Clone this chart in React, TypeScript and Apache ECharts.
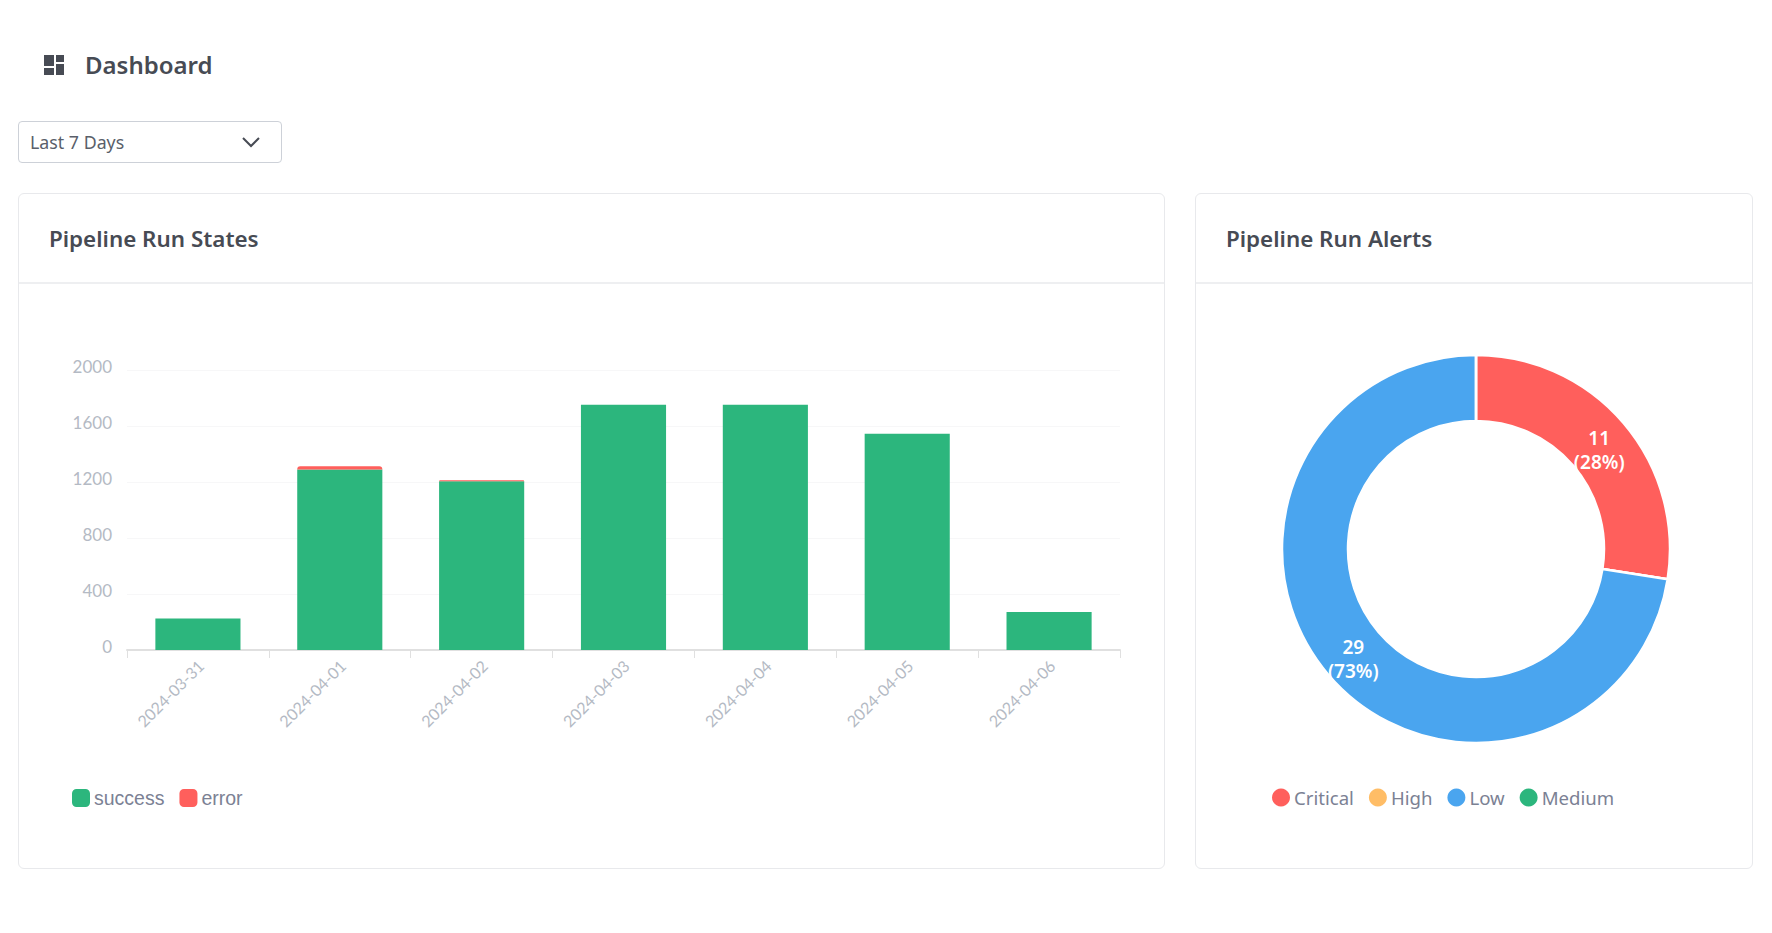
import React, { useEffect, useRef } from "react";
import * as echarts from "echarts";

const dates = ["2024-03-31", "2024-04-01", "2024-04-02", "2024-04-03", "2024-04-04", "2024-04-05", "2024-04-06"];
const successValues = [225, 1290, 1205, 1752, 1752, 1545, 272];
const errorValues = [0, 22, 7, 0, 0, 0, 0];
const alertNames = ["Critical", "High", "Low", "Medium"];
const alertValues = [11, 0, 29, 0];
const alertColors = ["#ff5f5c", "#ffbd66", "#4aa5ef", "#2cb67d"];

const UI_FONT = '"Noto Sans", "Open Sans", sans-serif';
const AXIS_FONT = "Lato, sans-serif";
const TEXT = "#474b54";

function Card({ x, width, title }: { x: number; width: number; title: string }) {
  return (
    <div
      style={{
        position: "absolute",
        left: x,
        top: 193,
        width,
        height: 676,
        boxSizing: "border-box",
        border: "1px solid #e8e9ec",
        borderRadius: 6,
        background: "#fff",
      }}
    >
      <div
        style={{
          height: 90,
          boxSizing: "border-box",
          borderBottom: "2px solid #eeeff1",
          paddingLeft: 30,
          lineHeight: "44px",
          paddingTop: 23,
          fontSize: 22.4,
          fontWeight: 600,
          color: TEXT,
        }}
      >
        {title}
      </div>
    </div>
  );
}

export default function App() {
  const barRef = useRef<HTMLDivElement>(null);
  const pieRef = useRef<HTMLDivElement>(null);

  useEffect(() => {
    const bar = echarts.init(barRef.current!, null, { renderer: "svg" });
    const pie = echarts.init(pieRef.current!, null, { renderer: "svg" });

    bar.setOption({
      animation: false,
      grid: { left: 109, right: 44, top: 87, bottom: 217, containLabel: false, outerBoundsMode: "none" },
      legend: {
        left: 54,
        top: 505,
        padding: 0,
        itemWidth: 18,
        itemHeight: 18,
        itemGap: 15,
        icon: "roundRect",
        data: ["success", "error"],
        textStyle: { fontFamily: "Liberation Sans, sans-serif", fontSize: 19.5, color: "#7b8194", padding: [0, 0, 0, -1] },
      },
      xAxis: {
        type: "category",
        data: dates,
        axisLine: { lineStyle: { color: "#e0e0e0", width: 2 } },
        axisTick: { show: true, length: 8, alignWithLabel: false, lineStyle: { color: "#e0e0e0", width: 1 } },
        axisLabel: {
          rotate: 45,
          margin: 10,
          color: "#b4bac4",
          fontFamily: AXIS_FONT,
          fontSize: 16,
          verticalAlign: "top",
          lineHeight: 8,
        },
      },
      yAxis: {
        type: "value",
        min: 0,
        max: 2000,
        interval: 400,
        axisLine: { show: false },
        axisTick: { show: false },
        splitLine: { lineStyle: { color: "#f7f7f8", width: 1 } },
        axisLabel: {
          margin: 15,
          color: "#b4bac4",
          fontFamily: AXIS_FONT,
          fontSize: 17,
          verticalAlign: "bottom",
          lineHeight: 8,
          formatter: (v: number) => String(v),
        },
      },
      series: [
        {
          name: "success",
          type: "bar",
          stack: "runs",
          barWidth: "60%",
          data: successValues,
          itemStyle: { color: "#2cb67d" },
        },
        {
          name: "error",
          type: "bar",
          stack: "runs",
          barWidth: "60%",
          data: errorValues,
          itemStyle: { color: "#ff5f5c", borderRadius: [4, 4, 0, 0] },
        },
      ],
    });

    pie.setOption({
      animation: false,
      color: alertColors,
      legend: {
        left: 77,
        top: 505,
        padding: 0,
        itemWidth: 18,
        itemHeight: 18,
        itemGap: 15,
        icon: "circle",
        itemStyle: { borderWidth: 0 },
        data: alertNames,
        textStyle: { fontFamily: UI_FONT, fontSize: 18.6, color: "#7b8194", padding: [0, 0, 0, -1] },
      },
      series: [
        {
          type: "pie",
          center: [281, 266],
          radius: [128, 194],
          startAngle: 90,
          data: alertNames.map((name, i) => ({ name, value: alertValues[i] })),
          itemStyle: { borderColor: "#fff", borderWidth: 2.5 },
          labelLine: { show: false },
          labelLayout: (p: any) => (p.dataIndex === 0 ? { dx: -1.5, dy: 8 } : { dx: 2, dy: 3 }),
          label: {
            show: true,
            position: "inside",
            color: "#fff",
            fontFamily: UI_FONT,
            fontSize: 19,
            fontWeight: 600,
            lineHeight: 24,
            textBorderWidth: 0,
            formatter: (p: any) => (p.value ? `${p.value}\n(${Math.round(p.percent)}%)` : ""),
          },
        },
      ],
    });

    return () => {
      bar.dispose();
      pie.dispose();
    };
  }, []);

  return (
    <div
      style={{
        position: "absolute",
        left: 0,
        top: 0,
        width: 1772,
        height: 933,
        overflow: "hidden",
        background: "#fff",
        fontFamily: UI_FONT,
      }}
    >
      <svg width="20" height="20" viewBox="0 0 20 20" style={{ position: "absolute", left: 44, top: 55 }}>
        <rect x="0" y="0" width="10" height="11" fill={TEXT} />
        <rect x="0" y="13" width="10" height="7" fill={TEXT} />
        <rect x="12" y="0" width="8" height="7" fill={TEXT} />
        <rect x="12" y="9" width="8" height="11" fill={TEXT} />
      </svg>
      <div
        style={{
          position: "absolute",
          left: 85,
          top: 47,
          lineHeight: "36px",
          fontSize: 24,
          fontWeight: 600,
          color: TEXT,
        }}
      >
        Dashboard
      </div>

      <div
        style={{
          position: "absolute",
          left: 18,
          top: 121,
          width: 264,
          height: 42,
          boxSizing: "border-box",
          border: "1px solid #cdd1d8",
          borderRadius: 4,
          paddingLeft: 11,
          lineHeight: "41px",
          fontSize: 17.8,
          color: "#5a5f6a",
        }}
      >
        Last 7 Days
        <svg width="20" height="12" viewBox="0 0 20 12" style={{ position: "absolute", left: 222, top: 14 }}>
          <polyline points="2,2 10,10 18,2" fill="none" stroke={TEXT} strokeWidth="2" />
        </svg>
      </div>

      <Card x={18} width={1147} title="Pipeline Run States" />
      <Card x={1195} width={558} title="Pipeline Run Alerts" />

      <div ref={barRef} style={{ position: "absolute", left: 18, top: 283, width: 1146, height: 584 }} />
      <div ref={pieRef} style={{ position: "absolute", left: 1195, top: 283, width: 557, height: 584 }} />
    </div>
  );
}
